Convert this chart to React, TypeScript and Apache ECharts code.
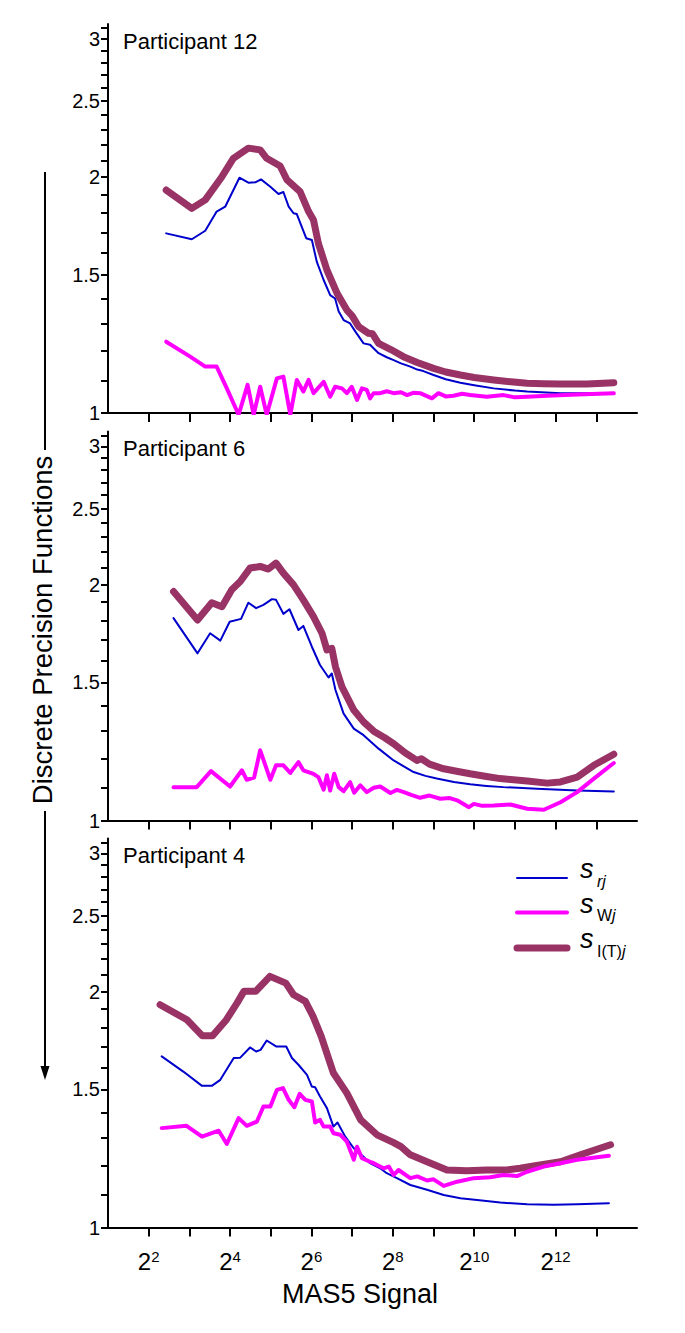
import React, { useEffect, useRef } from 'react';
import * as echarts from 'echarts';

// ---------- axis values ----------
const xTickExponents = [2, 3, 4, 5, 6, 7, 8, 9, 10, 11, 12, 13];
const xLabelExponents = [2, 4, 6, 8, 10, 12];
const yTickValues = [1, 1.1, 1.2, 1.3, 1.4, 1.5, 1.6, 1.7, 1.8, 1.9, 2, 2.1, 2.2, 2.3, 2.4, 2.5, 2.6, 2.7, 2.8, 2.9, 3, 3.1];
const yLabelValues = [1, 1.5, 2, 2.5, 3];
const panelTitles = ['Participant 12', 'Participant 6', 'Participant 4'];

// ---------- Participant 12 (x = log2 of MAS5 signal) ----------
const p12RjX = [2.43, 3.06, 3.39, 3.67, 3.88, 4.23, 4.45, 4.62, 4.76, 4.99, 5.19, 5.31, 5.44, 5.56, 5.64, 5.87, 6.01, 6.13, 6.30, 6.46, 6.58, 6.67, 6.79, 6.95, 7.08, 7.28, 7.44, 7.65, 7.85, 8.02, 8.2, 8.43, 8.6, 8.75, 9.0, 9.3, 9.66, 10.0, 10.48, 11.0, 11.3, 12.12, 12.94, 13.43];
const p12RjY = [1.695, 1.666, 1.708, 1.807, 1.833, 1.996, 1.967, 1.969, 1.986, 1.944, 1.903, 1.914, 1.833, 1.798, 1.794, 1.671, 1.662, 1.560, 1.478, 1.414, 1.400, 1.347, 1.314, 1.301, 1.270, 1.227, 1.222, 1.192, 1.178, 1.168, 1.157, 1.146, 1.136, 1.131, 1.118, 1.104, 1.093, 1.085, 1.075, 1.068, 1.065, 1.060, 1.060, 1.060];
const p12WjX = [2.43, 3.02, 3.39, 3.67, 3.92, 4.21, 4.43, 4.58, 4.74, 4.90, 5.15, 5.31, 5.48, 5.64, 5.80, 5.93, 6.05, 6.30, 6.46, 6.58, 6.75, 6.87, 6.99, 7.12, 7.24, 7.36, 7.44, 7.53, 7.69, 7.85, 8.02, 8.2, 8.35, 8.5, 8.67, 8.96, 9.12, 9.3, 9.49, 9.7, 9.90, 10.31, 10.72, 11.0, 11.30, 11.79, 12.53, 13.43];
const p12WjY = [1.233, 1.180, 1.146, 1.146, 1.075, 0.995, 1.086, 0.995, 1.080, 0.995, 1.107, 1.113, 0.995, 1.102, 1.065, 1.102, 1.060, 1.096, 1.049, 1.080, 1.075, 1.060, 1.080, 1.039, 1.075, 1.070, 1.044, 1.060, 1.060, 1.066, 1.060, 1.063, 1.054, 1.061, 1.060, 1.044, 1.060, 1.050, 1.052, 1.058, 1.054, 1.049, 1.054, 1.047, 1.049, 1.052, 1.056, 1.060];
const p12ItjX = [2.43, 3.06, 3.39, 3.80, 4.08, 4.45, 4.74, 4.90, 5.23, 5.40, 5.72, 5.93, 6.05, 6.17, 6.38, 6.63, 6.87, 7.0, 7.16, 7.40, 7.5, 7.65, 7.95, 8.26, 8.6, 9.0, 9.3, 9.66, 10.0, 10.48, 10.9, 11.3, 11.7, 12.12, 12.77, 13.43];
const p12ItjY = [1.925, 1.824, 1.870, 2.002, 2.113, 2.177, 2.166, 2.113, 2.066, 1.983, 1.916, 1.807, 1.763, 1.646, 1.522, 1.421, 1.353, 1.330, 1.289, 1.264, 1.262, 1.227, 1.205, 1.180, 1.160, 1.140, 1.128, 1.118, 1.110, 1.102, 1.096, 1.091, 1.090, 1.089, 1.089, 1.093];

// ---------- Participant 6 ----------
const p6RjX = [2.61, 3.20, 3.51, 3.76, 3.99, 4.27, 4.45, 4.64, 4.82, 5.03, 5.13, 5.31, 5.46, 5.68, 5.80, 6.01, 6.21, 6.42, 6.50, 6.59, 6.79, 7.04, 7.28, 7.65, 8.02, 8.3, 8.51, 8.8, 9.08, 9.5, 9.9, 10.3, 10.72, 11.54, 12.53, 13.43];
const p6RjY = [1.812, 1.634, 1.733, 1.696, 1.793, 1.808, 1.896, 1.866, 1.884, 1.916, 1.912, 1.835, 1.860, 1.750, 1.771, 1.666, 1.579, 1.522, 1.540, 1.467, 1.369, 1.310, 1.285, 1.235, 1.193, 1.170, 1.153, 1.140, 1.131, 1.120, 1.112, 1.107, 1.103, 1.098, 1.092, 1.089];
const p6WjX = [2.61, 3.18, 3.53, 4.00, 4.29, 4.41, 4.59, 4.74, 4.99, 5.13, 5.31, 5.48, 5.68, 5.80, 6.05, 6.17, 6.30, 6.38, 6.46, 6.56, 6.67, 6.79, 6.95, 7.05, 7.20, 7.36, 7.53, 7.69, 7.94, 8.1, 8.27, 8.45, 8.67, 8.9, 9.17, 9.4, 9.58, 9.87, 9.99, 10.2, 10.48, 10.89, 11.30, 11.71, 12.12, 12.53, 12.94, 13.43];
const p6WjY = [1.103, 1.103, 1.156, 1.105, 1.159, 1.127, 1.134, 1.229, 1.127, 1.176, 1.176, 1.150, 1.187, 1.159, 1.147, 1.136, 1.095, 1.142, 1.092, 1.147, 1.103, 1.090, 1.119, 1.085, 1.109, 1.087, 1.101, 1.105, 1.084, 1.094, 1.087, 1.078, 1.069, 1.076, 1.066, 1.068, 1.061, 1.040, 1.050, 1.044, 1.045, 1.048, 1.035, 1.032, 1.055, 1.087, 1.131, 1.184];
const p6ItjX = [2.61, 3.20, 3.55, 3.80, 4.04, 4.25, 4.49, 4.74, 4.94, 5.13, 5.31, 5.56, 5.80, 6.05, 6.26, 6.38, 6.50, 6.59, 6.75, 7.04, 7.28, 7.53, 7.80, 8.02, 8.3, 8.59, 8.7, 8.9, 9.25, 9.6, 9.9, 10.3, 10.64, 11.3, 11.79, 12.12, 12.53, 12.94, 13.43];
const p6ItjY = [1.959, 1.802, 1.896, 1.874, 1.969, 2.018, 2.099, 2.109, 2.093, 2.130, 2.068, 1.998, 1.912, 1.820, 1.733, 1.650, 1.658, 1.571, 1.481, 1.383, 1.336, 1.300, 1.275, 1.253, 1.220, 1.193, 1.199, 1.180, 1.164, 1.155, 1.147, 1.138, 1.131, 1.123, 1.116, 1.120, 1.136, 1.176, 1.215];

// ---------- Participant 4 ----------
const p4RjX = [2.32, 2.85, 3.31, 3.55, 3.76, 4.09, 4.25, 4.49, 4.64, 4.75, 4.90, 5.13, 5.38, 5.52, 5.68, 5.89, 6.01, 6.09, 6.21, 6.38, 6.54, 6.64, 6.83, 7.04, 7.28, 7.44, 7.69, 7.85, 8.10, 8.43, 8.84, 9.25, 9.66, 10.07, 10.64, 11.30, 11.95, 12.53, 13.31];
const p4RjY = [1.653, 1.581, 1.516, 1.516, 1.543, 1.645, 1.647, 1.697, 1.677, 1.685, 1.732, 1.702, 1.702, 1.645, 1.613, 1.566, 1.513, 1.510, 1.469, 1.420, 1.345, 1.361, 1.306, 1.262, 1.231, 1.208, 1.190, 1.173, 1.156, 1.133, 1.117, 1.100, 1.090, 1.084, 1.076, 1.071, 1.069, 1.071, 1.074];
const p4WjX = [2.32, 2.93, 3.31, 3.72, 3.92, 4.21, 4.41, 4.66, 4.82, 4.99, 5.15, 5.30, 5.44, 5.58, 5.71, 5.85, 6.01, 6.09, 6.21, 6.30, 6.46, 6.54, 6.71, 6.87, 7.04, 7.12, 7.24, 7.44, 7.53, 7.77, 7.90, 8.02, 8.14, 8.43, 8.6, 8.84, 9.0, 9.25, 9.58, 9.99, 10.39, 10.72, 11.05, 11.30, 11.71, 12.12, 12.53, 13.31];
const p4WjY = [1.339, 1.348, 1.306, 1.329, 1.278, 1.379, 1.348, 1.365, 1.427, 1.427, 1.498, 1.506, 1.455, 1.424, 1.481, 1.455, 1.448, 1.361, 1.372, 1.345, 1.345, 1.319, 1.313, 1.287, 1.220, 1.268, 1.226, 1.213, 1.208, 1.190, 1.196, 1.167, 1.184, 1.156, 1.162, 1.148, 1.152, 1.130, 1.144, 1.156, 1.159, 1.167, 1.163, 1.178, 1.196, 1.208, 1.220, 1.235];
const p4ItjX = [2.28, 2.94, 3.32, 3.57, 3.91, 4.17, 4.34, 4.63, 4.98, 5.37, 5.56, 5.85, 6.04, 6.24, 6.54, 6.87, 7.21, 7.61, 8.02, 8.2, 8.43, 8.84, 9.33, 9.82, 10.31, 10.80, 11.13, 11.46, 12.12, 12.61, 13.35];
const p4ItjY = [1.924, 1.841, 1.756, 1.756, 1.841, 1.933, 2.001, 2.001, 2.091, 2.050, 1.981, 1.943, 1.859, 1.753, 1.574, 1.484, 1.372, 1.313, 1.283, 1.268, 1.238, 1.213, 1.184, 1.181, 1.184, 1.184, 1.190, 1.198, 1.213, 1.238, 1.275];

const panels = [
  { rjX: p12RjX, rjY: p12RjY, wjX: p12WjX, wjY: p12WjY, itX: p12ItjX, itY: p12ItjY },
  { rjX: p6RjX, rjY: p6RjY, wjX: p6WjX, wjY: p6WjY, itX: p6ItjX, itY: p6ItjY },
  { rjX: p4RjX, rjY: p4RjY, wjX: p4WjX, wjY: p4WjY, itX: p4ItjX, itY: p4ItjY },
];

const BLUE = '#0000CC';
const MAGENTA = '#FF00FF';
const MAROON = '#993366';
const FONT = '"Liberation Sans", Arial, Helvetica, sans-serif';

const GRID_LEFT = 108;
const GRID_WIDTH = 529;
const GRID_TOPS = [24, 431.5, 838.5];
const GRID_HEIGHT = 389;

function toPoints(xs: number[], ys: number[]) {
  return xs.map((e, i) => [Math.pow(2, e), ys[i]]);
}

export default function App() {
  const ref = useRef<HTMLDivElement>(null);

  useEffect(() => {
    if (!ref.current) return;
    const chart = echarts.init(ref.current, null, { renderer: 'svg' });

    const grids = GRID_TOPS.map((top) => ({ left: GRID_LEFT, width: GRID_WIDTH, top, height: GRID_HEIGHT }));

    const xAxes = GRID_TOPS.map((_, i) => ({
      type: 'log',
      logBase: 2,
      gridIndex: i,
      min: 2,
      max: 16384,
      axisLine: { show: true, onZero: false, lineStyle: { color: '#000', width: 2 } },
      axisTick: {
        show: true,
        inside: false,
        length: 9,
        lineStyle: { color: '#000', width: 2 },
        customValues: xTickExponents.map((e) => Math.pow(2, e)),
      },
      axisLabel: {
        show: i === 2,
        margin: 21,
        customValues: xLabelExponents.map((e) => Math.pow(2, e)),
        formatter: (v: number) => `{b|2}{s|${Math.round(Math.log2(v))}}`,
        rich: {
          b: { fontSize: 24, lineHeight: 26, fontFamily: FONT, color: '#000' },
          s: { fontSize: 15, lineHeight: 15, verticalAlign: 'top', fontFamily: FONT, color: '#000' },
        },
      },
      splitLine: { show: false },
      minorTick: { show: false },
    }));

    const yAxes = GRID_TOPS.map((_, i) => ({
      type: 'log',
      logBase: 10,
      gridIndex: i,
      min: 1,
      max: 3.135,
      axisLine: { show: true, onZero: false, lineStyle: { color: '#000', width: 2 } },
      axisTick: {
        show: true,
        inside: false,
        length: 7,
        lineStyle: { color: '#000', width: 2 },
        customValues: yTickValues,
      },
      axisLabel: {
        show: true,
        margin: 8,
        fontSize: 20,
        fontFamily: FONT,
        color: '#000',
        customValues: yLabelValues,
        formatter: (v: number) => String(Math.round(v * 10) / 10),
      },
      splitLine: { show: false },
    }));

    const series: any[] = [];
    panels.forEach((p, i) => {
      series.push({
        name: 's I(T)j',
        type: 'line',
        xAxisIndex: i,
        yAxisIndex: i,
        symbol: 'none',
        showSymbol: false,
        data: toPoints(p.itX, p.itY),
        lineStyle: { color: MAROON, width: 7, cap: 'round', join: 'round' },
        itemStyle: { color: MAROON },
      });
      series.push({
        name: 's rj',
        type: 'line',
        xAxisIndex: i,
        yAxisIndex: i,
        symbol: 'none',
        showSymbol: false,
        data: toPoints(p.rjX, p.rjY),
        lineStyle: { color: BLUE, width: 2, cap: 'round', join: 'round' },
        itemStyle: { color: BLUE },
      });
      series.push({
        name: 's Wj',
        type: 'line',
        xAxisIndex: i,
        yAxisIndex: i,
        symbol: 'none',
        showSymbol: false,
        data: toPoints(p.wjX, p.wjY),
        lineStyle: { color: MAGENTA, width: 4, cap: 'round', join: 'round' },
        itemStyle: { color: MAGENTA },
      });
    });

    const titleTexts = panelTitles.map((t, i) => ({
      type: 'text',
      x: 123,
      y: GRID_TOPS[i] + 17,
      style: { text: t, fontSize: 22, fontFamily: FONT, fill: '#000', align: 'left', verticalAlign: 'middle' },
    }));

    const legendRows = [
      { y: 878, color: BLUE, width: 2, sub: '{i|rj}' },
      { y: 912.5, color: MAGENTA, width: 4, sub: '{u|W}{i|j}' },
      { y: 948, color: MAROON, width: 7, sub: '{u|I(T)}{i|j}' },
    ];
    const legendEls: any[] = [];
    legendRows.forEach((r) => {
      legendEls.push({
        type: 'line',
        shape: { x1: 517, y1: r.y, x2: 567, y2: r.y },
        style: { stroke: r.color, lineWidth: r.width, lineCap: 'round' },
      });
      legendEls.push({
        type: 'text',
        x: 580,
        y: r.y - 9,
        style: { text: 's', fontSize: 27, fontStyle: 'italic', fontFamily: FONT, fill: '#000', align: 'left', verticalAlign: 'middle' },
      });
      legendEls.push({
        type: 'text',
        x: 597,
        y: r.y + 3,
        style: {
          text: r.sub,
          align: 'left',
          verticalAlign: 'middle',
          rich: {
            i: { fontSize: 16, fontStyle: 'italic', fontFamily: FONT, fill: '#000' },
            u: { fontSize: 16, fontFamily: FONT, fill: '#000' },
          },
        },
      });
    });

    const option: any = {
      animation: false,
      backgroundColor: '#fff',
      grid: grids,
      xAxis: xAxes,
      yAxis: yAxes,
      series,
      graphic: [
        ...titleTexts,
        ...legendEls,
        {
          type: 'text',
          x: 360,
          y: 1294,
          style: { text: 'MAS5 Signal', fontSize: 27, fontFamily: FONT, fill: '#000', align: 'center', verticalAlign: 'middle' },
        },
        {
          type: 'line',
          shape: { x1: 45, y1: 172, x2: 45, y2: 450 },
          style: { stroke: '#000', lineWidth: 2 },
        },
        {
          type: 'text',
          x: 42,
          y: 630,
          rotation: Math.PI / 2,
          style: { text: 'Discrete Precision Functions', fontSize: 27.5, fontFamily: FONT, fill: '#000', align: 'center', verticalAlign: 'middle' },
        },
        {
          type: 'line',
          shape: { x1: 45, y1: 811, x2: 45, y2: 1068 },
          style: { stroke: '#000', lineWidth: 2 },
        },
        {
          type: 'polygon',
          shape: { points: [[40.5, 1066], [49.5, 1066], [45, 1080]] },
          style: { fill: '#000' },
        },
      ],
    };

    chart.setOption(option);
    return () => chart.dispose();
  }, []);

  return <div ref={ref} style={{ position: 'absolute', left: 0, top: 0, width: 685, height: 1333 }} />;
}
